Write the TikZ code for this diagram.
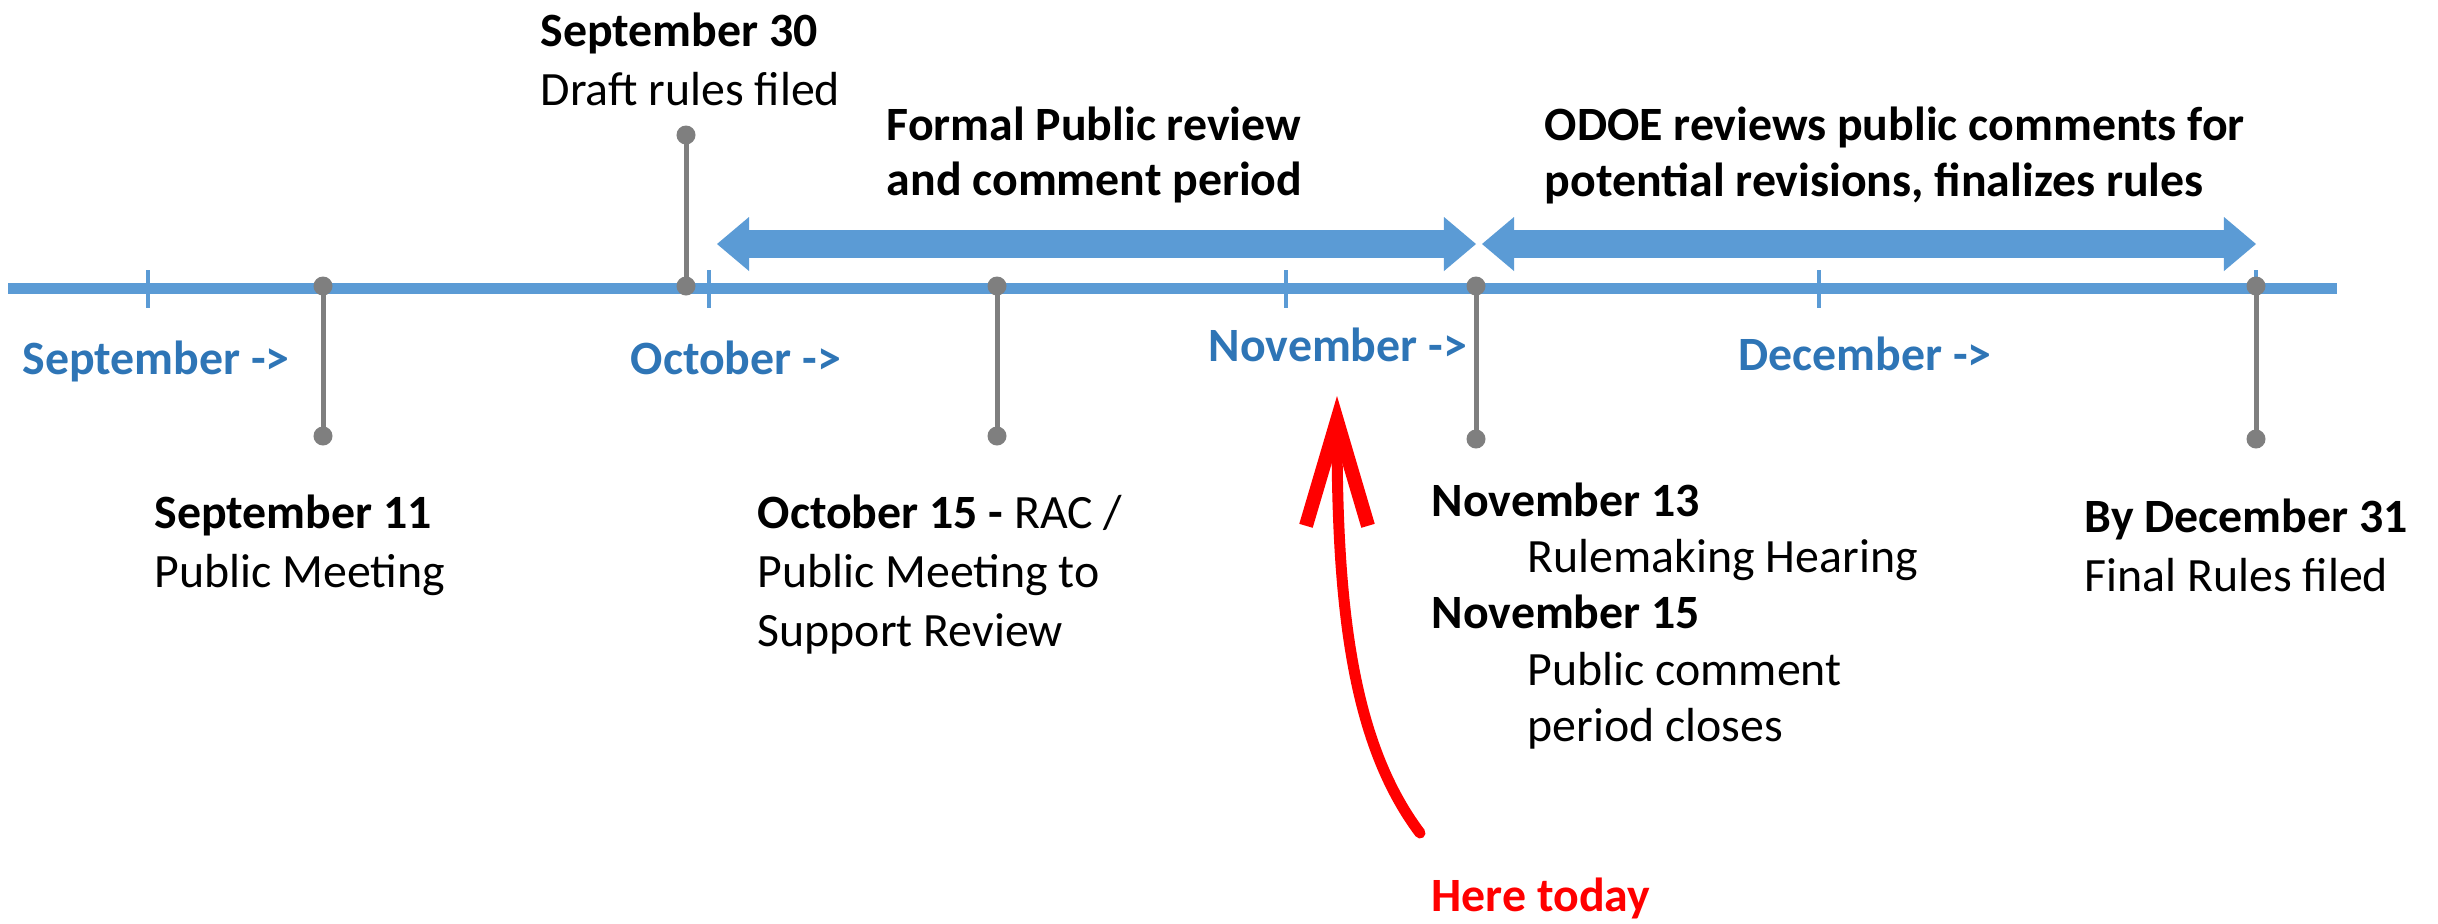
\documentclass[tikz,border=0pt]{standalone}
\usepackage{fontspec}
\setmainfont{Carlito}
\usetikzlibrary{arrows.meta}
\definecolor{lineblue}{HTML}{5B9BD5}
\definecolor{monthblue}{HTML}{2E75B6}
\definecolor{stemgray}{HTML}{7F7F7F}
\tikzstyle{txt} = [inner sep=0pt, anchor=north west, align=left,
    font=\fontsize{13.6}{16.8}\selectfont]
\tikzstyle{month} = [txt, text=monthblue, font=\fontsize{13.6}{16.8}\selectfont\bfseries]
\tikzstyle{stem} = [draw=stemgray, line width=0.05cm]
\tikzstyle{period} = [draw=lineblue, line width=0.28cm,
    arrows={Triangle[length=0.32cm,width=0.54cm,line width=0pt]-Triangle[length=0.32cm,width=0.54cm,line width=0pt]}]

\begin{document}
\begin{tikzpicture}[x=0.01cm,y=-0.01cm]
  \useasboundingbox (0,0) rectangle (2438,923);

  % time axis with month ticks
  \coordinate (start) at (8,288);
  \coordinate (end)   at (2337,288);
  \draw[lineblue, line width=0.11cm] (start) -- (end);
  \foreach \x in {148,709,1286,1819,2256}
    \draw[lineblue, line width=0.04cm] (\x,270) -- (\x,308);

  % milestone stems
  \foreach \name/\x/\ya/\yb in {sep11/323/286/436, sep30/686/135/286,
      oct15/997/286/436, nov13/1476/286/439, dec31/2256/286/439} {
    \coordinate (\name a) at (\x,\ya);
    \coordinate (\name b) at (\x,\yb);
    \draw[stem] (\name a) -- (\name b);
    \fill[stemgray] (\name a) circle [radius=0.095cm];
    \fill[stemgray] (\name b) circle [radius=0.095cm];
  }

  % review periods
  \coordinate (p1a) at (717,244);
  \coordinate (p1b) at (1476,244);
  \coordinate (p2a) at (1482,244);
  \coordinate (p2b) at (2256,244);
  \draw[period] (p1a) -- (p1b);
  \draw[period] (p2a) -- (p2b);

  \node[txt] (draft) at (540,12) {\textbf{September 30}\\Draft rules filed};
  \node[txt, font=\fontsize{13.6}{15.7}\selectfont\bfseries] (review) at (886,106)
      {Formal Public review\\and comment period};
  \node[txt, font=\fontsize{13.6}{15.9}\selectfont\bfseries] (odoe) at (1544,106)
      {ODOE reviews public comments for\\potential revisions, finalizes rules};

  \node[month] (msep) at (22,340)   {September ->};
  \node[month] (moct) at (630,340)  {October ->};
  \node[month] (mnov) at (1208,327) {November ->};
  \node[month] (mdec) at (1738,336) {December ->};

  \node[txt] (meet)  at (154,494)  {\textbf{September 11}\\Public Meeting};
  \node[txt] (rac)   at (757,494)  {\textbf{October 15 -} RAC /\\Public Meeting to\\Support Review};
  \node[txt, font=\fontsize{13.6}{16.0}\selectfont] (hear) at (1431,482) {\textbf{November 13}\\
      \hspace*{0.96cm}Rulemaking Hearing\\
      \textbf{November 15}\\
      \hspace*{0.96cm}Public comment\\
      \hspace*{0.96cm}period closes};
  \node[txt] (final) at (2084,498) {\textbf{By December 31}\\Final Rules filed};

  % pointer to the current date
  \node[txt, text=red, font=\fontsize{13.6}{16.8}\selectfont\bfseries] (today) at (1431,877) {Here today};
  \coordinate (tail) at (1420,833);
  \coordinate (tip)  at (1337,396);
  \draw[red, line width=0.11cm, line cap=round,
        -{Straight Barb[length=1.05cm,width=0.62cm,line width=0.14cm]}]
    (tail) .. controls (1350,740) and (1337,600) .. (tip);
\end{tikzpicture}
\end{document}
